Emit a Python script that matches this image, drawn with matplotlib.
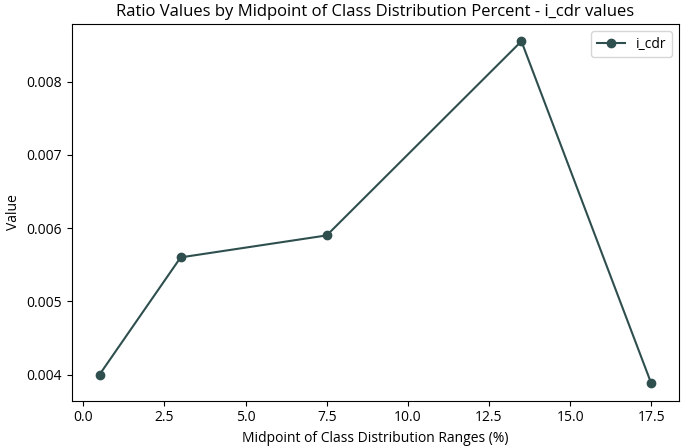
from matplotlib import pyplot as plt

plt.rcParams['font.family'] = ['Open Sans', 'DejaVu Sans']

# midpoints of class distribution ranges (%)
midpoints = [0.5, 3.0, 7.5, 13.5, 17.5]
i_cdr = [0.0040, 0.0056, 0.0059, 0.00855, 0.00388]

fig, ax = plt.subplots(figsize=(6.85, 4.47), dpi=100)
fig.subplots_adjust(left=0.105, right=0.991, top=0.946, bottom=0.104)

ax.plot(midpoints, i_cdr, marker="o", color="darkslategray", label="i_cdr")

ax.set_title("Ratio Values by Midpoint of Class Distribution Percent - i_cdr values", fontsize=12)
ax.set_xlabel("Midpoint of Class Distribution Ranges (%)")
ax.set_ylabel("Value")
ax.legend(loc="upper right")

fig.savefig("out.png")
